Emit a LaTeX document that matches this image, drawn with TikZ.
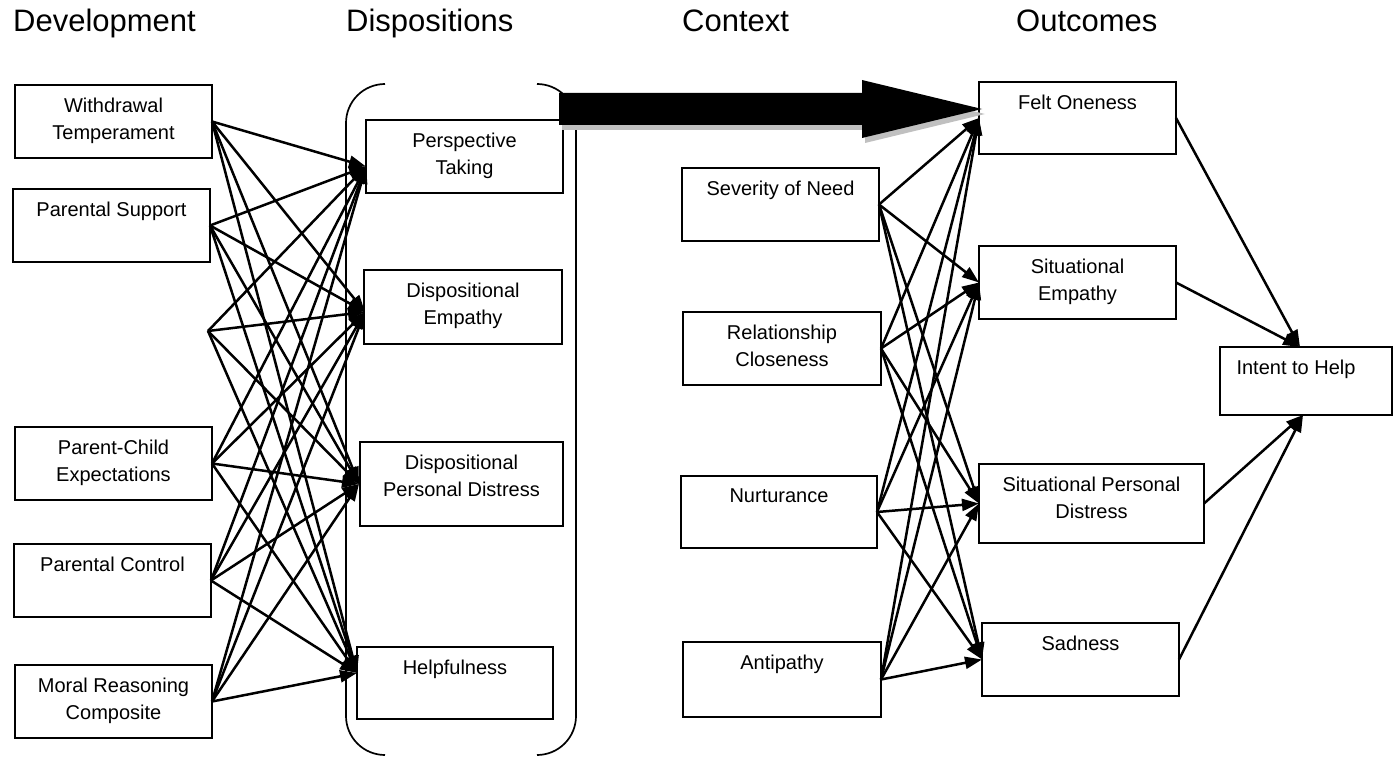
\documentclass[tikz,border=0pt]{standalone}
\usepackage{fontspec}
\setmainfont{Liberation Sans}
\usetikzlibrary{arrows.meta,calc}

% box with its text set near the top edge: [text xshift]{name}{x1}{y1}{x2}{y2}{text}
\newcommand\mkbox[7][0]{%
  \node[boxshape, anchor=north west, minimum width={#5-#3}, minimum height={#6-#4}] (#2) at (#3,#4) {};
  \node[boxtext] (#2-t) at ($(#2.north)+(#1,12.7)$) {#7};}

% outline of the wide arrow, offset by (#1,#2)
\newcommand\bigarrowpath[2]{%
  ($(big-start)+(#1,#2-16)$) -- ($(big-tip)+(#1-120,#2-16)$) -- ($(big-tip)+(#1-120,#2-29)$)
  -- ($(big-tip)+(#1,#2)$) -- ($(big-tip)+(#1-120,#2+29)$) -- ($(big-tip)+(#1-120,#2+16)$)
  -- ($(big-start)+(#1,#2+16)$) -- cycle}

\definecolor{shadowgray}{RGB}{192,192,192}

\begin{document}
\begin{tikzpicture}[x=1pt,y=-1pt,
  boxshape/.style={draw=black, line width=1.9pt, rectangle, inner sep=0pt, outer sep=0pt},
  boxtext/.style={inner sep=0pt, align=center, anchor=north, font=\fontsize{20}{26.7}\selectfont},
  heading/.style={inner sep=0pt, anchor=base west, font=\fontsize{31}{36}\selectfont},
  link/.style={line width=2.5pt, -{Triangle[length=17pt,width=12pt]}},
  bracket/.style={line width=1.7pt, rounded corners=39pt},
]
\useasboundingbox (0,0) rectangle (1400,757);

% column headings
\node[heading] (h-dev) at (13,32) {Development};
\node[heading] (h-dis) at (346,32) {Dispositions};
\node[heading] (h-con) at (682,32) {Context};
\node[heading] (h-out) at (1016,32) {Outcomes};

% bracket pair around the dispositions
\draw[bracket] (385,84) -- (346,84) -- (346,755) -- (385,755);
\draw[bracket] (537,84) -- (576,84) -- (576,755) -- (537,755);

% development
\mkbox{wt}{15}{85}{212}{158}{Withdrawal\\Temperament}
\mkbox{ps}{13}{189}{210}{262}{Parental Support}
\mkbox{pc}{15}{427}{212}{500}{Parent-Child\\Expectations}
\mkbox{pcon}{14}{544}{211}{617}{Parental Control}
\mkbox{mr}{15}{665}{212}{738}{Moral Reasoning\\Composite}
\coordinate (ph) at (208,331);

% dispositions
\mkbox{dpt}{366}{120}{563}{193}{Perspective\\Taking}
\mkbox{dem}{364}{270}{562}{344}{Dispositional\\Empathy}
\mkbox{dpd}{360}{442}{563}{526}{Dispositional\\Personal Distress}
\mkbox{dhe}{357}{647}{553}{719}{Helpfulness}

% context
\mkbox{sev}{682}{168}{879}{241}{Severity of Need}
\mkbox{rel}{683}{312}{881}{385}{Relationship\\Closeness}
\mkbox{nur}{681}{476}{877}{548}{Nurturance}
\mkbox{ant}{683}{642}{881}{717}{Antipathy}

% outcomes
\mkbox{fo}{979}{82}{1176}{154}{Felt Oneness}
\mkbox{se}{979}{246}{1176}{319}{Situational\\Empathy}
\mkbox{spd}{979}{464}{1204}{543}{Situational Personal\\Distress}
\mkbox{sad}{982}{623}{1179}{696}{Sadness}
\mkbox[-10]{ith}{1220}{347}{1392}{415}{Intent to Help}

% ports
\coordinate (wt-o) at (wt.east);
\coordinate (ps-o) at (ps.east);
\coordinate (ph-o) at (ph);
\coordinate (pc-o) at (pc.east);
\coordinate (pcon-o) at (pcon.east);
\coordinate (mr-o) at (mr.east);
\coordinate (dpt-i) at ($(dpt.west)+(0,10)$);
\coordinate (dem-i) at ($(dem.west)+(1,5)$);
\coordinate (dpd-i) at ($(dpd.west)+(-1,0)$);
\coordinate (dhe-i) at ($(dhe.west)+(0,-10)$);
\coordinate (ith-top) at ($(ith.north)+(-6,0)$);
\coordinate (ith-bot) at ($(ith.south)+(-3,0)$);

% development -> dispositions
\foreach \s in {wt,ps,ph,pc,pcon,mr}
  \foreach \t in {dpt,dem,dpd,dhe}
    \draw[link] (\s-o) -- (\t-i);

% context -> outcomes
\foreach \s in {sev,rel,nur,ant}
  \foreach \t in {fo,se,spd,sad}
    \draw[link] (\s.east) -- (\t.west);

% outcomes -> intent to help
\draw[link] (fo.east) -- (ith-top);
\draw[link] (se.east) -- (ith-top);
\draw[link] (spd.east) -- (ith-bot);
\draw[link] (sad.east) -- (ith-bot);

% wide arrow from the dispositions to felt oneness
\coordinate (big-start) at (559,109);
\coordinate (big-tip) at ($(fo.west)+(3,-9)$);
\fill[shadowgray] \bigarrowpath{3}{5};
\fill[black] \bigarrowpath{0}{0};
\end{tikzpicture}
\end{document}
